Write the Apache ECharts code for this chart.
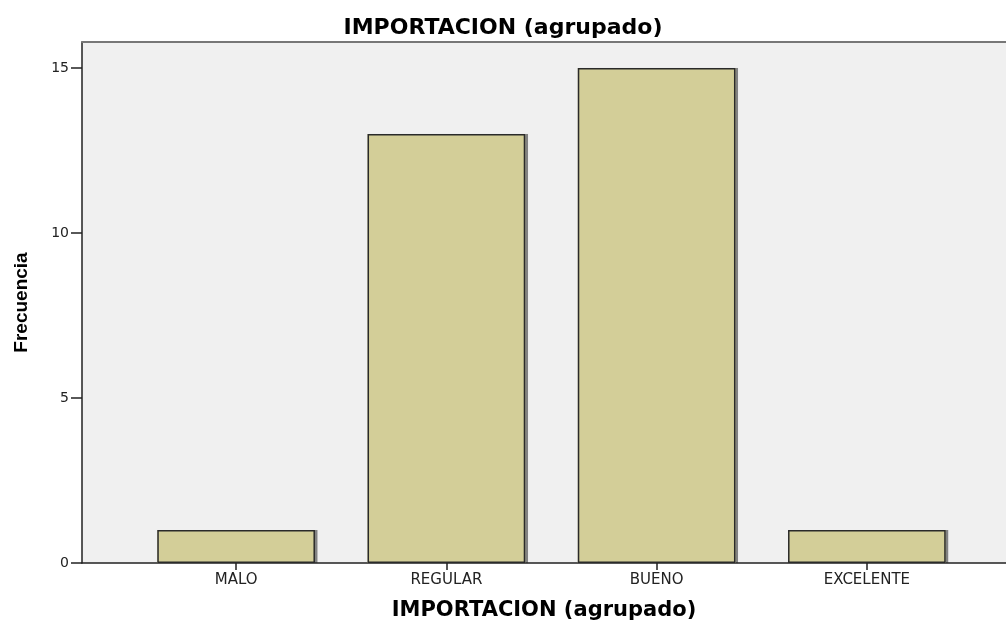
<!DOCTYPE html>
<html><head><meta charset="utf-8">
<script src="https://cdn.jsdelivr.net/npm/echarts@6/dist/echarts.min.js"></script>
<style>html,body{margin:0;padding:0;background:#fff}#c{width:1006px;height:622px}</style>
</head><body><div id="c"></div>
<script>
const categories = ['MALO', 'REGULAR', 'BUENO', 'EXCELENTE'];
const frecuencia = [1, 13, 15, 1];
const yTicks = [0, 5, 10, 15];

const chart = echarts.init(document.getElementById('c'), null, {renderer: 'canvas'});
const font = 'DejaVu Sans, sans-serif';
const yMax = 15.79;
chart.setOption({
  animation: false,
  backgroundColor: '#ffffff',
  title: {
    text: 'IMPORTACION (agrupado)', left: 'center', top: 12,
    textStyle: {fontFamily: font, fontSize: 22, fontWeight: 'bold', color: '#000'}
  },
  grid: [
    {left: 82, right: 0, top: 42, bottom: 59, show: true, backgroundColor: '#f0f0f0', borderWidth: 0,
     containLabel: false, outerBoundsMode: 'none'},
    {left: 131, right: 34, top: 42, bottom: 59, show: false, containLabel: false, outerBoundsMode: 'none'}
  ],
  xAxis: [
    {gridIndex: 0, type: 'category', data: [''], position: 'bottom',
     axisLine: {show: true, lineStyle: {color: '#222', width: 1.5}}, axisTick: {show: false}, axisLabel: {show: false},
     name: 'IMPORTACION (agrupado)', nameLocation: 'middle', nameGap: 37,
     nameTextStyle: {fontFamily: font, fontSize: 21, fontWeight: 'bold', color: '#000'}},
    {gridIndex: 0, type: 'category', data: [''], position: 'top',
     axisLine: {show: true, lineStyle: {color: '#777', width: 2}}, axisTick: {show: false}, axisLabel: {show: false}},
    {gridIndex: 1, type: 'category', data: categories, position: 'bottom',
     axisLine: {show: false},
     axisTick: {show: true, alignWithLabel: true, length: 7, lineStyle: {color: '#222', width: 1.5}},
     axisLabel: {fontFamily: font, fontSize: 15, color: '#222', margin: 10}}
  ],
  yAxis: [
    {gridIndex: 0, type: 'value', min: 0, max: yMax, interval: 5,
     name: 'Frecuencia', nameLocation: 'middle', nameGap: 51, nameRotate: 90,
     nameTextStyle: {fontFamily: 'Liberation Sans, Arial, sans-serif', fontSize: 19, fontWeight: 'bold', color: '#000'},
     axisLine: {show: true, lineStyle: {color: '#222', width: 1.5}},
     axisTick: {show: true, length: 11, lineStyle: {color: '#222', width: 1.5}},
     axisLabel: {fontFamily: font, fontSize: 14, color: '#222', margin: 13,
       showMaxLabel: false,
       formatter: v => yTicks.includes(v) ? String(v) : ''},
     splitLine: {show: false}},
    {gridIndex: 1, type: 'value', min: 0, max: yMax, show: false, splitLine: {show: false}}
  ],
  series: [{
    type: 'bar', xAxisIndex: 2, yAxisIndex: 1, data: frecuencia,
    barWidth: '75%', silent: true,
    itemStyle: {color: '#d3ce98', borderWidth: 0,
      shadowColor: 'rgba(40,40,40,0.55)', shadowOffsetX: 2.5, shadowOffsetY: 0, shadowBlur: 0.5}
  }, {
    type: 'bar', xAxisIndex: 2, yAxisIndex: 1, data: frecuencia,
    barWidth: '75%', barGap: '-100%',
    itemStyle: {color: '#d3ce98', borderColor: '#2a2a2a', borderWidth: 1.5}
  }]
});
</script></body></html>
